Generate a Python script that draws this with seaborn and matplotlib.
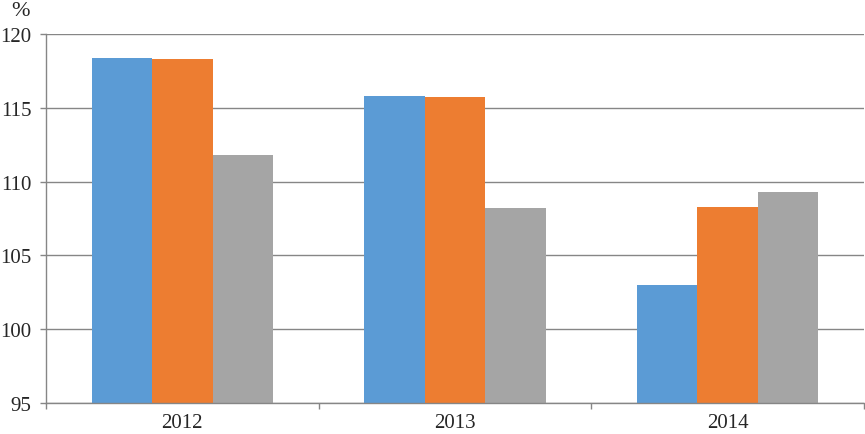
import matplotlib
matplotlib.use("Agg")
import matplotlib.pyplot as plt
import pandas as pd
import seaborn as sns

years = ["2012", "2013", "2014"]
series_names = ["Series 1", "Series 2", "Series 3"]
series_1 = [118.4, 115.8, 103.0]
series_2 = [118.3, 115.7, 108.3]
series_3 = [111.8, 108.2, 109.3]
colors = ["#5B9BD5", "#ED7D31", "#A5A5A5"]

y_ticks = [95, 100, 105, 110, 115, 120]

df = pd.DataFrame({
    "year": years * 3,
    "series": [s for s in series_names for _ in years],
    "value": series_1 + series_2 + series_3,
})

sns.set_theme(style="white")
plt.rcParams["font.family"] = ["Liberation Serif", "DejaVu Serif"]

fig = plt.figure(figsize=(8.65, 4.35), dpi=100)
ax = fig.add_axes([46 / 865, 1 - 404 / 435, 818 / 865, 369 / 435])

sns.barplot(data=df, x="year", y="value", hue="series", palette=colors,
            width=0.664, legend=False, ax=ax, saturation=1, linewidth=0)

ax.set_ylim(95, 120)
ax.set_xlim(-0.5, 2.5)
ax.set_yticks(y_ticks)
ax.set_yticklabels([str(t) for t in y_ticks], fontsize=15)
ax.set_xlabel("")
ax.set_ylabel("")

grid_color = "#868686"
ax.yaxis.grid(True, color=grid_color, linewidth=1.0)
ax.set_axisbelow(True)
for side in ["top", "right"]:
    ax.spines[side].set_visible(False)
for side in ["left", "bottom"]:
    ax.spines[side].set_color(grid_color)
    ax.spines[side].set_linewidth(1.0)

ax.tick_params(axis="y", which="major", direction="out", length=4.3, width=1,
               color=grid_color, pad=6, left=True)
ax.set_xticks([0, 1, 2])
ax.set_xticklabels(years, fontsize=15)
ax.tick_params(axis="x", which="major", length=0, pad=7)
ax.set_xticks([-0.5, 0.5, 1.5, 2.5], minor=True)
ax.tick_params(axis="x", which="minor", direction="out", length=4, width=1,
               color=grid_color, bottom=True)

fig.text(20 / 865, 1 - 12 / 435, "%", fontsize=16, ha="center", va="center")

fig.savefig("out.png", dpi=100)
